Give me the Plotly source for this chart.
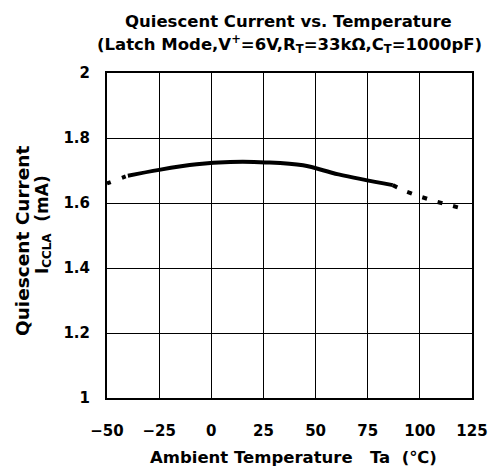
import plotly.graph_objects as go

temp_solid = [-40, -25, -7, 9, 26, 44, 61, 87]
icc_solid = [1.684, 1.702, 1.719, 1.726, 1.725, 1.716, 1.688, 1.655]
temp_dash_low = [-50, -41]
icc_dash_low = [1.660, 1.682]
temp_dash_high = [87, 93, 100, 108, 121]
icc_dash_high = [1.655, 1.636, 1.620, 1.604, 1.582]
x_ticks = [-50, -25, 0, 25, 50, 75, 100, 125]
y_ticks = [1, 1.2, 1.4, 1.6, 1.8, 2]

FONT = "DejaVu Sans"
NB = "\u00a0"

fig = go.Figure()
fig.add_trace(go.Scatter(x=temp_solid, y=icc_solid, mode="lines",
                         line=dict(color="black", width=4, shape="spline"), showlegend=False))
fig.add_trace(go.Scatter(x=temp_dash_low, y=icc_dash_low, mode="lines",
                         line=dict(color="black", width=4, dash="4px,12px"), showlegend=False))
fig.add_trace(go.Scatter(x=temp_dash_high, y=icc_dash_high, mode="lines",
                         line=dict(color="black", width=4, dash="5px,11px"), showlegend=False))

fig.update_layout(
    width=500, height=470,
    margin=dict(l=107, r=16, t=73, b=72),
    paper_bgcolor="white", plot_bgcolor="white",
    font=dict(family=FONT, color="black", size=15),
)
fig.add_annotation(text="<b>Quiescent Current vs. Temperature</b>", xref="paper", yref="paper",
                   x=0.497, y=1, yshift=52, xanchor="center", yanchor="middle", showarrow=False,
                   font=dict(size=16.5))
fig.add_annotation(text="<b>(Latch Mode,V<sup>+</sup>=6V,R<sub>T</sub>=33kΩ,C<sub>T</sub>=1000pF)</b>",
                   xref="paper", yref="paper",
                   x=0.5, y=1, yshift=29, xanchor="center", yanchor="middle", showarrow=False,
                   font=dict(size=16.5))
fig.add_annotation(text="<b>Quiescent Current</b>", xref="paper", yref="paper",
                   x=0, xshift=-85, y=0.483, xanchor="center", yanchor="middle",
                   textangle=-90, showarrow=False, font=dict(size=18.5))
fig.add_annotation(text="<b>I<sub>CCLA</sub>" + NB + NB + "(mA)</b>", xref="paper", yref="paper",
                   x=0, xshift=-64, y=0.532, xanchor="center", yanchor="middle",
                   textangle=-90, showarrow=False, font=dict(size=17))
fig.add_annotation(text="<b>Ambient Temperature" + NB * 3 + "Ta" + NB * 2 + "(℃)</b>", xref="paper", yref="paper",
                   x=0.51, y=0, yshift=-71, xanchor="center", showarrow=False, font=dict(size=16.5))

fig.update_xaxes(range=[-50, 125], tickvals=x_ticks, ticktext=["<b>" + (("−" + str(-v)) if v < 0 else str(v)) + "</b>" for v in x_ticks],
                 showgrid=True, gridcolor="black", gridwidth=1, zeroline=False,
                 showline=True, linecolor="black", linewidth=2, mirror=True,
                 ticks="", tickfont=dict(size=15), ticklabelstandoff=18)
fig.update_yaxes(range=[1, 2], tickvals=y_ticks, ticktext=["<b>%g</b>" % v for v in y_ticks],
                 showgrid=True, gridcolor="black", gridwidth=1, zeroline=False,
                 showline=True, linecolor="black", linewidth=2, mirror=True,
                 ticks="", tickfont=dict(size=15), ticklabelstandoff=12)

fig.write_html("out.html", config={"displayModeBar": False},
               post_script="document.body.style.margin='0';")
